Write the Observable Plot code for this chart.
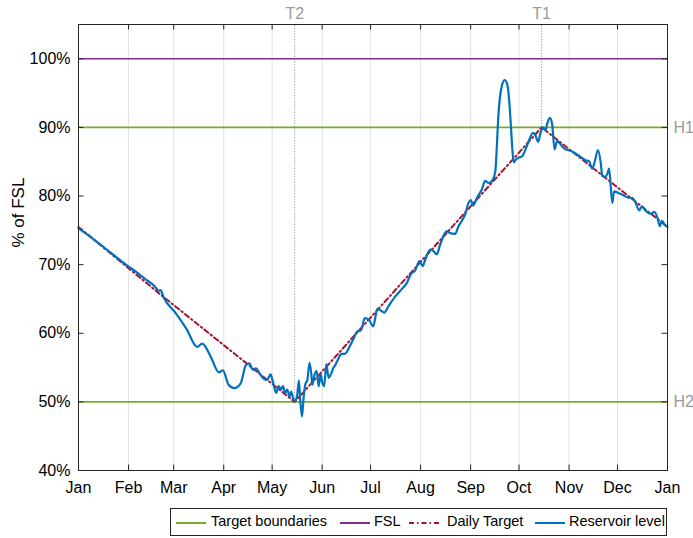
<!DOCTYPE html>
<html><head><meta charset="utf-8">
<script src="https://cdn.jsdelivr.net/npm/d3@7"></script>
<script src="https://cdn.jsdelivr.net/npm/@observablehq/plot@0.6"></script>
<style>
body{margin:0;background:#fff;font-family:"Liberation Sans",Arial,Helvetica,sans-serif;}
#wrap{position:relative;width:693px;height:538px;}
#legend{position:absolute;left:170px;top:508px;width:497px;height:28px;box-sizing:border-box;border:1px solid #262626;background:#fff;font-size:14.5px;color:#000;}
#legend svg{position:absolute;top:12px;}
#legend .t{position:absolute;top:4px;white-space:nowrap;}
</style></head>
<body><div id="wrap"><div id="chart"></div><div id="legend"></div></div>
<script>
// ---- data ----
const monthNames = ["Jan","Feb","Mar","Apr","May","Jun","Jul","Aug","Sep","Oct","Nov","Dec","Jan"];
const yTicks = [40, 50, 60, 70, 80, 90, 100];
const boundaryLevels = [50, 90];
const boundaryLabels = ["H2", "H1"];
const fslLevels = [100];
const targetDays = [0, 50, 134, 287, 365];
const targetLevels = [75.5, 65.8, 50, 90, 75.5];
const milestoneDays = [134, 287];
const milestoneLevels = [50, 90];
const milestoneLabels = ["T2", "T1"];
const levelDays = [0,6,12,18,24,30,36,42,47,49.8,50.8,53,60,67,73.6,76.7,81.9,87,89.5,93,96.5,100.5,103.8,105.9,108,110,112.1,114.2,116.9,119,120.4,122.5,124,125.6,126.7,128.1,129.4,130.8,131.8,132.9,133.9,135.4,136.6,137.4,138.5,139.5,140.5,141.8,143.2,144.3,144.9,146.3,147.6,148.8,150.1,150.9,152.2,153.6,155,156.7,157.8,159.2,160.9,162.9,165,168.1,170.2,172.9,175,177.4,179.9,182.6,185.3,187.4,189.5,192,196.1,200.2,203.4,206.5,208.5,211.3,213.3,214.7,217.9,219.9,222,224.1,228.2,230.3,233.4,235.5,237.6,239.6,241.7,243.2,244.5,247,250,252,254.2,256.8,258.3,259.2,259.8,260.6,261.4,262.5,264.1,265.2,266.2,267.2,268,268.8,269.7,271.3,272.8,274.9,277,279,281.7,283.2,284.8,286.3,287.9,289.4,290.4,292.1,293.5,295,296.6,299.8,301.8,304.9,308,311.1,314.2,316.3,318.4,320,321.9,323.6,324.6,326.3,327.7,328.8,330.8,331.9,334,337.1,340.2,343.3,345.3,347.5,349.1,351.6,354.7,356.8,358.8,360.3,361.5,363,365];
const levelValues = [75.3,74.3,73.2,72.1,71.0,69.9,68.9,67.8,66.9,66.2,66.3,65.1,63.0,60.6,58.0,58.5,56.6,54.3,54.6,52.5,52.0,52.7,55.4,55.6,54.7,54.9,54.2,53.5,53.2,54.0,53.0,51.3,52.3,51.8,52.3,51.3,51.8,50.8,51.5,50.6,50.1,50.8,53.1,50.3,47.9,50.6,52.5,53.2,55.7,54.0,52.5,54.0,54.5,52.3,54.0,53.0,52.3,55.5,53.5,54.2,54.9,55.4,56.2,57.0,57.0,58.1,59.1,60.3,60.4,62.2,62.0,61.0,63.6,63.3,63.0,63.9,65.3,66.4,67.3,68.8,69.1,70.5,69.8,70.6,72.2,72.0,71.5,72.9,74.9,74.6,74.5,75.6,76.4,77.3,79.0,79.4,78.6,79.8,81.0,82.2,81.9,82.4,83.6,87,90.0,93.0,94.8,96.2,96.9,96.6,95.6,93,90.0,87,84.9,85.4,85.6,85.8,86.8,88.0,89.2,88.8,87.9,89.2,90.0,89.6,90.5,91.4,90.5,86.8,88.0,87.2,86.8,86.6,86.2,85.7,85.2,85.1,84.0,85.1,86.7,84.9,82.9,82.8,83.2,84.0,79.0,80.7,80.5,80.2,79.8,79.7,79.0,77.9,78.5,77.8,77.4,77.7,76.8,75.6,76.4,75.9,75.5];

// ---- helpers ----
const year0 = Date.UTC(2019, 0, 1);
const toDate = d => new Date(year0 + d * 864e5);
const monthTicks = d3.range(13).map(i => new Date(Date.UTC(2019, i, 1)));
const target = targetDays.map((d, i) => ({date: toDate(d), v: targetLevels[i]}));
const level = levelDays.map((d, i) => ({date: toDate(d), v: levelValues[i]}));
const milestones = milestoneDays.map((d, i) => ({date: toDate(d), v: milestoneLevels[i], label: milestoneLabels[i]}));
const bounds = boundaryLevels.map((v, i) => ({v, label: boundaryLabels[i]}));
const x0 = toDate(0), x1 = toDate(365);
const C = {green: "#77ac30", purple: "#7e2f8e", red: "#a2142f", blue: "#0072bd", axis: "#262626", gray: "#9a9a9a"};

const chart = Plot.plot({
  width: 693, height: 500,
  marginLeft: 78, marginRight: 26, marginTop: 24, marginBottom: 30,
  style: {fontFamily: "'Liberation Sans', Arial, Helvetica, sans-serif", fontSize: "16px", color: C.axis, background: "#fff", overflow: "visible"},
  x: {type: "utc", domain: [x0, x1]},
  y: {domain: [40, 105]},
  marks: [
    Plot.ruleX(monthTicks, {x: d => d, stroke: "#e3e3e3", strokeWidth: 1}),
    Plot.ruleX(milestones, {x: "date", y1: "v", y2: 105, stroke: "#999", strokeWidth: 1, strokeDasharray: "1.2,1.6"}),
    Plot.ruleY(bounds, {y: "v", stroke: C.green, strokeWidth: 1.6}),
    Plot.ruleY(fslLevels, {y: d => d, stroke: C.purple, strokeWidth: 1.6}),
    Plot.line(target, {x: "date", y: "v", stroke: C.red, strokeWidth: 2, strokeDasharray: "5,3,1.5,3"}),
    Plot.line(level, {x: "date", y: "v", stroke: C.blue, strokeWidth: 2.2, curve: "monotone-x"}),
    Plot.frame({stroke: C.axis, strokeWidth: 1}),
    // inward ticks
    Plot.ruleX(monthTicks, {x: d => d, y1: 40, y2: 40.8, stroke: C.axis}),
    Plot.ruleX(monthTicks, {x: d => d, y1: 105, y2: 104.2, stroke: C.axis}),
    Plot.ruleY(yTicks, {y: d => d, x1: x0, x2: toDate(3.4), stroke: C.axis}),
    Plot.ruleY(yTicks, {y: d => d, x1: toDate(361.6), x2: x1, stroke: C.axis}),
    Plot.axisX(monthTicks, {tickSize: 0, tickPadding: 11, label: null, tickFormat: (d, i) => monthNames[i], fontSize: 16, fill: "#000"}),
    Plot.axisY(yTicks, {tickSize: 0, tickPadding: 8, label: null, tickFormat: d => d + "%", fontSize: 16, fill: "#000"}),
    Plot.text(["% of FSL"], {frameAnchor: "left", rotate: -90, dx: -60, fontSize: 17, fill: "#000"}),
    Plot.text(bounds, {x: x1, y: "v", text: "label", textAnchor: "start", dx: 6, fill: C.gray, fontSize: 16}),
    Plot.text(milestones, {x: "date", y: 105, text: "label", dy: -11, fill: C.gray, fontSize: 16})
  ]
});
document.getElementById("chart").appendChild(chart);

// legend
const items = [
  {label: "Target boundaries", color: C.green, dash: null, s: 5, t: 40},
  {label: "FSL", color: C.purple, dash: null, s: 169, t: 203},
  {label: "Daily Target", color: C.red, dash: "5,3,1.5,3", s: 238, t: 276},
  {label: "Reservoir level", color: C.blue, dash: null, s: 364, t: 398}
];
const lg = document.getElementById("legend");
for (const it of items) {
  const ns = "http://www.w3.org/2000/svg";
  const s = document.createElementNS(ns, "svg");
  s.setAttribute("width", 30); s.setAttribute("height", 4);
  s.style.left = it.s + "px";
  const l = document.createElementNS(ns, "line");
  l.setAttribute("x1", 0); l.setAttribute("x2", 30); l.setAttribute("y1", 2); l.setAttribute("y2", 2);
  l.setAttribute("stroke", it.color); l.setAttribute("stroke-width", 2);
  if (it.dash) l.setAttribute("stroke-dasharray", it.dash);
  s.appendChild(l);
  lg.appendChild(s);
  const t = document.createElement("div");
  t.className = "t";
  t.style.left = it.t + "px";
  t.textContent = it.label;
  lg.appendChild(t);
}
</script>
</body></html>
